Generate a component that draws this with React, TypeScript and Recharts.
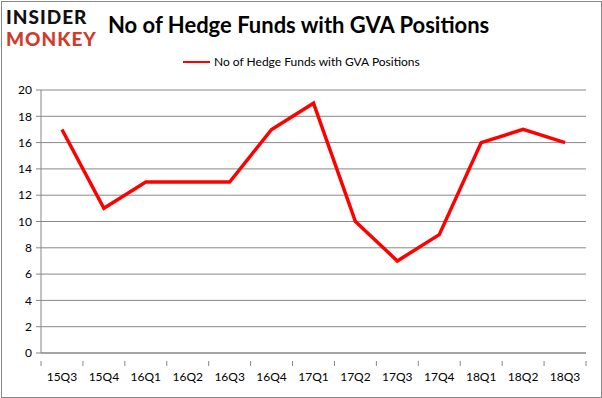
import React from 'react';
import { LineChart, Line, XAxis, YAxis, CartesianGrid } from 'recharts';

const quarters = ['15Q3', '15Q4', '16Q1', '16Q2', '16Q3', '16Q4', '17Q1', '17Q2', '17Q3', '17Q4', '18Q1', '18Q2', '18Q3'];
const hedgeFunds = [17, 11, 13, 13, 13, 17, 19, 10, 7, 9, 16, 17, 16];
const yTicks = [0, 2, 4, 6, 8, 10, 12, 14, 16, 18, 20];

const seriesName = 'No of Hedge Funds with GVA Positions';
const data = quarters.map((q, i) => ({ quarter: q, funds: hedgeFunds[i] }));

const W = 602;
const H = 398;
const plotLeft = 41;
const plotRight = 586;
const band = (plotRight - plotLeft) / quarters.length;
const font = 'Lato, "Open Sans", sans-serif';

// x ticks sit on category boundaries, labels in the middle
const QuarterTick = (props: any) => {
    const { x, y, payload, index } = props;
    return (
        <g>
            <line x1={x - band / 2} y1={y} x2={x - band / 2} y2={y + 5} stroke="#868686" />
            {index === quarters.length - 1 && (
                <line x1={x + band / 2} y1={y} x2={x + band / 2} y2={y + 5} stroke="#868686" />
            )}
            <text x={x} y={y + 20} textAnchor="middle" fontSize={12} fill="#000" fontFamily={font}>
                {payload.value}
            </text>
        </g>
    );
};

export default function App() {
    return (
        <div style={{ position: 'absolute', left: 0, top: 0, width: W, height: H, background: '#fff' }}>
            <div style={{ position: 'absolute', left: 1, top: 1, width: W - 3, height: H - 3, border: '1px solid #888' }} />
            <div style={{ position: 'absolute', left: 6, top: 6, fontFamily: font, fontWeight: 900, lineHeight: '22px', fontSize: 19, letterSpacing: 1 }}>
                <div style={{ color: '#111' }}>INSIDER</div>
                <div style={{ color: '#d13b2a' }}>MONKEY</div>
            </div>
            <div style={{ position: 'absolute', left: 108, top: 11, fontFamily: font, fontWeight: 700, fontSize: 22, color: '#000', whiteSpace: 'nowrap' }}>
                {seriesName}
            </div>
            <div style={{ position: 'absolute', left: 183, top: 54, display: 'flex', alignItems: 'center', fontFamily: font, fontSize: 12, color: '#000', whiteSpace: 'nowrap' }}>
                <span style={{ display: 'inline-block', width: 27, height: 2, background: '#ff0000', marginRight: 4 }} />
                {seriesName}
            </div>
            <LineChart width={W} height={H} data={data} margin={{ top: 90, right: W - plotRight, left: 0, bottom: 15 }}>
                <CartesianGrid vertical={false} stroke="#888" />
                <XAxis
                    dataKey="quarter"
                    height={30}
                    padding={{ left: band / 2, right: band / 2 }}
                    axisLine={{ stroke: '#868686' }}
                    tickLine={false}
                    tick={<QuarterTick />}
                    interval={0}
                />
                <YAxis
                    width={plotLeft}
                    domain={[0, 20]}
                    ticks={yTicks}
                    axisLine={{ stroke: '#868686' }}
                    tickLine={{ stroke: '#868686' }}
                    tickSize={5}
                    tickMargin={4}
                    tick={{ fontSize: 12, fill: '#000', fontFamily: font }}
                />
                <Line
                    type="linear"
                    dataKey="funds"
                    name={seriesName}
                    stroke="#ff0000"
                    strokeWidth={3.5}
                    dot={false}
                    isAnimationActive={false}
                />
            </LineChart>
        </div>
    );
}
